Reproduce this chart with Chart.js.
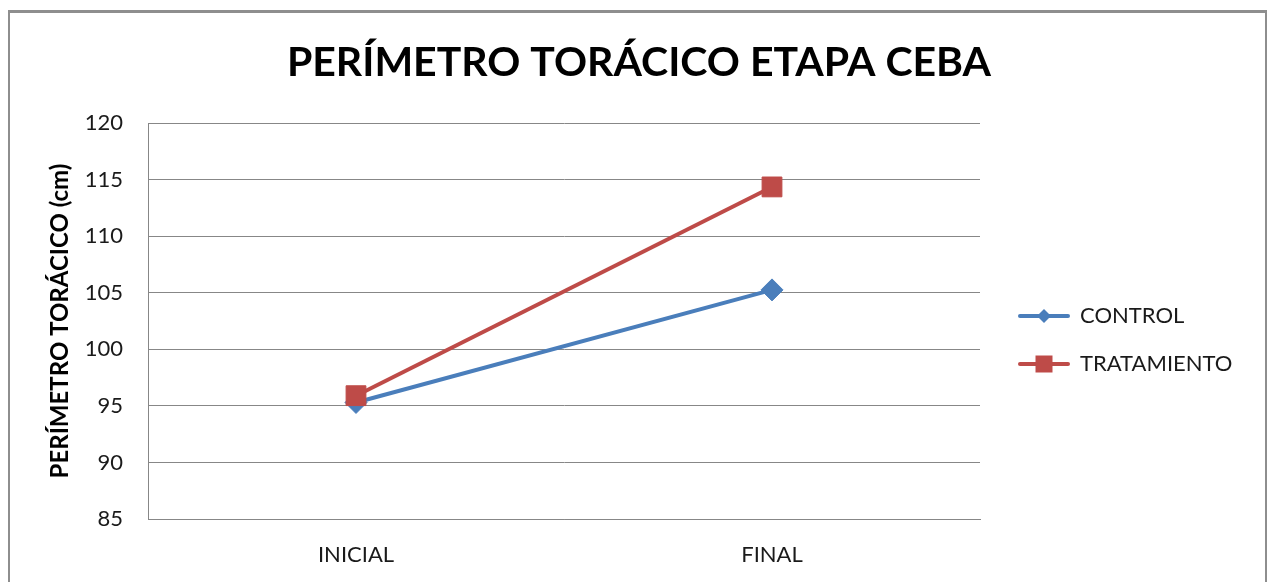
<!DOCTYPE html>
<html>
<head>
<meta charset="utf-8">
<script src="https://cdn.jsdelivr.net/npm/chart.js@4/dist/chart.umd.min.js"></script>
<style>
  html, body { margin: 0; padding: 0; background: #fff; }
  #frame { position: absolute; left: 8px; top: 10px; width: 1259px; height: 600px;
           border: 2px solid #8e8e8e; border-top-width: 3px; box-sizing: border-box; }
  #chart { position: absolute; left: 0; top: 0; }
</style>
</head>
<body>
<div id="frame"></div>
<canvas id="chart" width="1267" height="582"></canvas>
<script>
const categories = ['INICIAL', 'FINAL'];
const seriesNames = ['CONTROL', 'TRATAMIENTO'];
const controlValues = [95.3, 105.25];
const tratamientoValues = [95.9, 114.35];
const yMin = 85;
const yMax = 120;
const yStep = 5;

const blue = '#4A7EBB';
const red = '#BE4B48';
const font = 'Lato, "Open Sans", sans-serif';
const textSize = 22;

// legend icon: short line with the marker in the middle
function makeIcon(color, shape) {
    const c = document.createElement('canvas');
    c.width = 52;
    c.height = 24;
    const g = c.getContext('2d');
    g.strokeStyle = color;
    g.lineWidth = 4;
    g.lineCap = 'round';
    g.beginPath();
    g.moveTo(2, 12);
    g.lineTo(50, 12);
    g.stroke();
    g.fillStyle = color;
    g.beginPath();
    if (shape === 'diamond') {
        g.moveTo(26, 5); g.lineTo(33, 12); g.lineTo(26, 19); g.lineTo(19, 12);
    } else {
        g.rect(17.5, 3.5, 17, 17);
    }
    g.closePath();
    g.fill();
    return c;
}
const legendIcons = [makeIcon(blue, 'diamond'), makeIcon(red, 'square')];

const ctx = document.getElementById('chart').getContext('2d');

// work out side paddings so the plot ends at x=980 and the title stays centred
ctx.font = textSize + 'px ' + font;
const longest = Math.max(...seriesNames.map(s => ctx.measureText(s).width));
const legendPad = 26;
const iconWidth = 50;
const legendWidth = legendPad + iconWidth + textSize / 2 + longest + 10;
const legendLeft = 1019 - legendPad;
const padRight = Math.max(0, 1267 - legendLeft - legendWidth);
const padLeft = 11 + padRight;
const yTitleSize = 24;

new Chart(ctx, {
    type: 'line',
    data: {
        labels: categories,
        datasets: [{
            label: seriesNames[0],
            data: controlValues,
            borderColor: blue,
            backgroundColor: blue,
            borderWidth: 4,
            pointStyle: 'rectRot',
            pointRadius: 11,
            pointBorderWidth: 1,
            order: 1
        }, {
            label: seriesNames[1],
            data: tratamientoValues,
            borderColor: red,
            backgroundColor: red,
            borderWidth: 4,
            pointStyle: 'rect',
            pointRadius: 14,
            pointBorderWidth: 1,
            order: 0
        }]
    },
    options: {
        responsive: false,
        animation: false,
        layout: { padding: { left: padLeft, right: padRight, top: 0, bottom: 0 } },
        plugins: {
            tooltip: { enabled: false },
            title: {
                display: true,
                text: 'PERÍMETRO TORÁCICO ETAPA CEBA',
                color: '#000',
                font: { family: font, size: 41, weight: 'bold', lineHeight: 1.2 },
                padding: { top: 38, bottom: 35.8 }
            },
            legend: {
                position: 'right',
                align: 'center',
                maxWidth: 400,
                title: { display: true, text: ' ', font: { size: 10, lineHeight: 1 }, padding: { top: 88, bottom: 0 } },
                labels: {
                    usePointStyle: true,
                    pointStyleWidth: iconWidth,
                    padding: legendPad,
                    color: '#1a1a1a',
                    font: { family: font, size: textSize },
                    generateLabels: chart => chart.data.datasets.map((ds, i) => ({
                        text: ds.label,
                        pointStyle: legendIcons[i],
                        fillStyle: ds.backgroundColor,
                        strokeStyle: ds.borderColor,
                        lineWidth: 0,
                        hidden: false,
                        datasetIndex: i,
                        fontColor: '#1a1a1a'
                    }))
                }
            }
        },
        scales: {
            x: {
                offset: true,
                grid: { display: false },
                border: { display: true, color: '#878787' },
                ticks: { color: '#1a1a1a', padding: 15, font: { family: font, size: textSize } },
                afterFit: s => { s.height = 63; }
            },
            y: {
                min: yMin,
                max: yMax,
                grid: { color: '#878787', drawTicks: false },
                border: { display: true, color: '#878787' },
                ticks: { stepSize: yStep, color: '#1a1a1a', padding: 25, font: { family: font, size: textSize } },
                title: {
                    display: true,
                    text: 'PERÍMETRO TORÁCICO (cm)',
                    color: '#000',
                    font: { family: font, size: yTitleSize, weight: 'bold', lineHeight: 1.2 },
                    padding: { top: Math.max(0, 60 - padLeft - yTitleSize * 0.6), bottom: 0 }
                },
                afterFit: s => { s.width = 148 - padLeft; }
            },
            gap: {
                position: 'right',
                display: true,
                grid: { display: false },
                border: { display: false },
                ticks: { display: false },
                afterFit: s => { s.width = legendLeft - 980; }
            }
        }
    }
});
</script>
</body>
</html>
